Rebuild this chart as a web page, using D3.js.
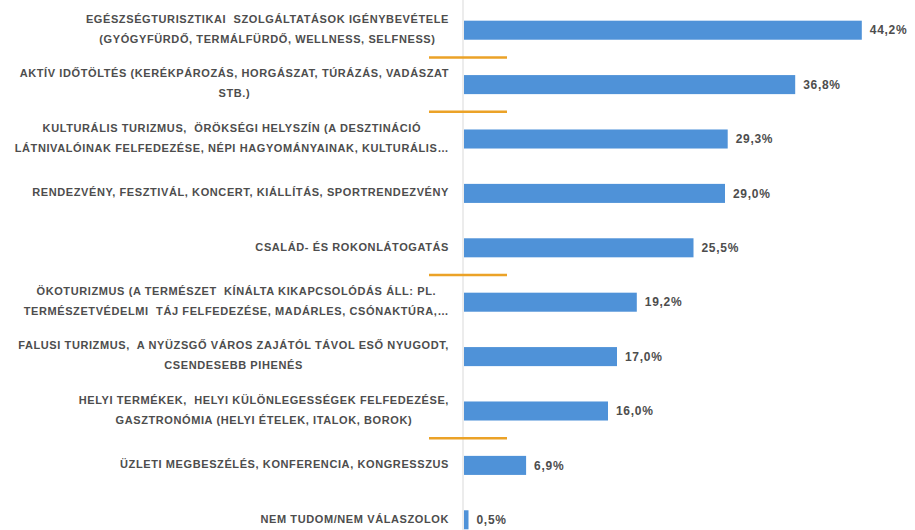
<!DOCTYPE html>
<html>
<head>
<meta charset="utf-8">
<script src="https://cdn.jsdelivr.net/npm/d3@7"></script>
<style>
  html, body { margin: 0; padding: 0; background: #ffffff; }
  svg { display: block; }
  .cat { font-family: "Liberation Sans", Arial, sans-serif; font-weight: bold; font-size: 11px; letter-spacing: 0.6px; fill: #4d4d4d; white-space: pre; }
  .val { font-family: "Liberation Sans", Arial, sans-serif; font-weight: bold; font-size: 12px; letter-spacing: 0.7px; fill: #4d4d4d; }
</style>
</head>
<body>
<svg id="chart" width="915" height="530"></svg>
<script>
// ---- data ----
const categories = [
  ["EGÉSZSÉGTURISZTIKAI  SZOLGÁLTATÁSOK IGÉNYBEVÉTELE", "(GYÓGYFÜRDŐ, TERMÁLFÜRDŐ, WELLNESS, SELFNESS)"],
  ["AKTÍV IDŐTÖLTÉS (KERÉKPÁROZÁS, HORGÁSZAT, TÚRÁZÁS, VADÁSZAT", "STB.)"],
  ["KULTURÁLIS TURIZMUS,  ÖRÖKSÉGI HELYSZÍN (A DESZTINÁCIÓ", "LÁTNIVALÓINAK FELFEDEZÉSE, NÉPI HAGYOMÁNYAINAK, KULTURÁLIS…"],
  ["RENDEZVÉNY, FESZTIVÁL, KONCERT, KIÁLLÍTÁS, SPORTRENDEZVÉNY"],
  ["CSALÁD- ÉS ROKONLÁTOGATÁS"],
  ["ÖKOTURIZMUS (A TERMÉSZET  KÍNÁLTA KIKAPCSOLÓDÁS ÁLL: PL.", "TERMÉSZETVÉDELMI  TÁJ FELFEDEZÉSE, MADÁRLES, CSÓNAKTÚRA,…"],
  ["FALUSI TURIZMUS,  A NYÜZSGŐ VÁROS ZAJÁTÓL TÁVOL ESŐ NYUGODT,", "CSENDESEBB PIHENÉS"],
  ["HELYI TERMÉKEK,  HELYI KÜLÖNLEGESSÉGEK FELFEDEZÉSE,", "GASZTRONÓMIA (HELYI ÉTELEK, ITALOK, BOROK)"],
  ["ÜZLETI MEGBESZÉLÉS, KONFERENCIA, KONGRESSZUS"],
  ["NEM TUDOM/NEM VÁLASZOLOK"]
];
const values = [44.2, 36.8, 29.3, 29.0, 25.5, 19.2, 17.0, 16.0, 6.9, 0.5];
// orange separator lines drawn after these category indexes
const separatorsAfter = [0, 1, 4, 7];

// ---- layout ----
const svg = d3.select("#chart");
const W = 915, H = 530;
const axisX = 463;
const labelRight = 449;

const x = d3.scaleLinear().domain([0, 50]).range([axisX, axisX + 450]);
const y = d3.scaleBand()
  .domain(d3.range(categories.length))
  .range([3, 547])
  .paddingInner(0.65)
  .paddingOuter(0.325);

// axis line
svg.append("line")
  .attr("x1", axisX).attr("x2", axisX)
  .attr("y1", 0).attr("y2", H)
  .attr("stroke", "#d9d9d9").attr("stroke-width", 1);

// bars
svg.selectAll("rect.bar")
  .data(values)
  .join("rect")
  .attr("class", "bar")
  .attr("x", x(0) + 1)
  .attr("y", (d, i) => y(i))
  .attr("width", d => x(d) - x(0))
  .attr("height", y.bandwidth())
  .attr("fill", "#4f92d8");

// value labels
const fmt = v => d3.format(".1f")(v).replace(".", ",") + "%";
svg.selectAll("text.val")
  .data(values)
  .join("text")
  .attr("class", "val")
  .attr("x", d => x(d) + 9)
  .attr("y", (d, i) => y(i) + y.bandwidth() / 2)
  .attr("dy", "0.35em")
  .text(d => fmt(d));

// category labels (block right-aligned, lines centred within block)
const lineGap = 20;
categories.forEach((lines, i) => {
  const cy = y(i) + y.bandwidth() / 2 - 1;
  const g = svg.append("g");
  const texts = lines.map((ln, k) =>
    g.append("text")
      .attr("class", "cat")
      .attr("y", cy + (k - (lines.length - 1) / 2) * lineGap)
      .attr("dy", "0.35em")
      .attr("text-anchor", "middle")
      .text(ln)
  );
  const maxW = d3.max(texts, t => t.node().getComputedTextLength());
  texts.forEach(t => t.attr("x", labelRight - maxW / 2));
});

// orange separators
svg.selectAll("line.sep")
  .data(separatorsAfter)
  .join("line")
  .attr("class", "sep")
  .attr("x1", 429).attr("x2", 507)
  .attr("y1", i => y(i) + y.bandwidth() + (y.step() - y.bandwidth()) / 2)
  .attr("y2", i => y(i) + y.bandwidth() + (y.step() - y.bandwidth()) / 2)
  .attr("stroke", "#eba227").attr("stroke-width", 2.5);
</script>
</body>
</html>
